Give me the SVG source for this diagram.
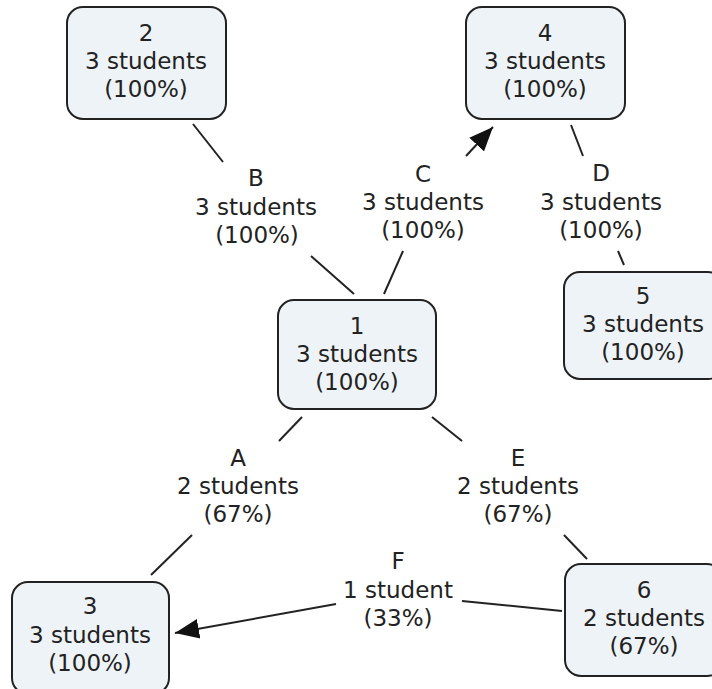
<svg xmlns="http://www.w3.org/2000/svg" width="712" height="689" viewBox="0 0 712 689">
<style>
.box{fill:#eef3f7;stroke:#222;stroke-width:2}
text{font-family:"DejaVu Sans",Verdana,sans-serif;font-size:23px;fill:#222;text-anchor:middle}
.ln{stroke:#222;stroke-width:2;fill:none}
</style>
<defs>
<marker id="arr" markerUnits="userSpaceOnUse" markerWidth="26" markerHeight="22" refX="24" refY="10" orient="auto" viewBox="0 0 26 20">
<polygon points="0,0 24,10 0,20" fill="#111"/>
</marker>
</defs>
<rect width="712" height="689" fill="#fff"/>
<g id="connectors">
<line class="ln" x1="193" y1="124" x2="223" y2="162"/>
<line class="ln" x1="311" y1="256" x2="354" y2="294"/>
<line class="ln" x1="466" y1="156" x2="493" y2="127" marker-end="url(#arr)"/>
<line class="ln" x1="403" y1="251" x2="384" y2="294"/>
<line class="ln" x1="571" y1="125" x2="583" y2="156"/>
<line class="ln" x1="618" y1="251" x2="624" y2="265"/>
<line class="ln" x1="302" y1="417" x2="279" y2="441"/>
<line class="ln" x1="192" y1="535" x2="151" y2="575"/>
<line class="ln" x1="432" y1="417" x2="462" y2="441"/>
<line class="ln" x1="564" y1="535" x2="587" y2="559"/>
<line class="ln" x1="462" y1="601" x2="562" y2="611"/>
<line class="ln" x1="336" y1="604" x2="175" y2="633" marker-end="url(#arr)"/>
<g id="label-B"><text x="256" y="186">B</text><text x="256" y="215">3 students</text><text x="257" y="243">(100%)</text></g>
<g id="label-C"><text x="423" y="182">C</text><text x="423" y="210">3 students</text><text x="423" y="238">(100%)</text></g>
<g id="label-D"><text x="601" y="181">D</text><text x="601" y="210">3 students</text><text x="601" y="238">(100%)</text></g>
<g id="label-A"><text x="238" y="466">A</text><text x="238" y="494">2 students</text><text x="238" y="522">(67%)</text></g>
<g id="label-E"><text x="518" y="466">E</text><text x="518" y="494">2 students</text><text x="518" y="522">(67%)</text></g>
<g id="label-F"><text x="398" y="569">F</text><text x="398" y="598">1 student</text><text x="398" y="626">(33%)</text></g>
</g>
<g id="node-2"><rect class="box" x="67" y="7" width="159" height="112" rx="16"/><text x="146" y="41">2</text><text x="146" y="69">3 students</text><text x="146" y="97">(100%)</text></g>
<g id="node-4"><rect class="box" x="466" y="7" width="159" height="112" rx="16"/><text x="545" y="41">4</text><text x="545" y="69">3 students</text><text x="545" y="97">(100%)</text></g>
<g id="node-1"><rect class="box" x="278" y="300" width="158" height="109" rx="16"/><text x="357" y="334">1</text><text x="357" y="362">3 students</text><text x="357" y="390">(100%)</text></g>
<g id="node-5"><rect class="box" x="564" y="272" width="160" height="107" rx="16"/><text x="643" y="304">5</text><text x="643" y="332">3 students</text><text x="643" y="360">(100%)</text></g>
<g id="node-6"><rect class="box" x="565" y="564" width="158" height="112" rx="16"/><text x="644" y="598">6</text><text x="644" y="626">2 students</text><text x="644" y="654">(67%)</text></g>
<g id="node-3"><rect class="box" x="12" y="582" width="157" height="112" rx="16"/><text x="90" y="614">3</text><text x="90" y="643">3 students</text><text x="90" y="671">(100%)</text></g>
</svg>
